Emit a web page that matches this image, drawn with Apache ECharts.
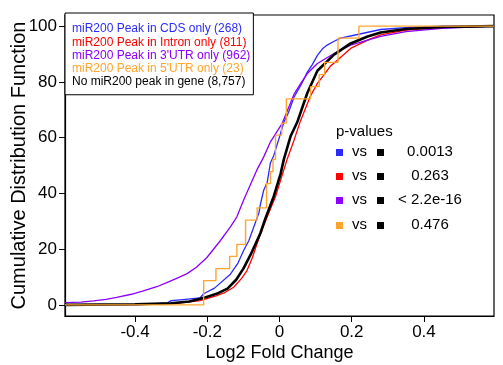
<!DOCTYPE html>
<html>
<head>
<meta charset="utf-8">
<script src="https://cdn.jsdelivr.net/npm/echarts@6/dist/echarts.min.js"></script>
<style>
html,body{margin:0;padding:0;background:#fff;}
#c{width:503px;height:365px;}
</style>
</head>
<body>
<div id="c"></div>
<script>
// ---- data (x = log2 fold change, y = cumulative %) ----
var seriesNames = [
  'miR200 Peak in CDS only (268)',
  'miR200 Peak in Intron only (811)',
  "miR200 Peak in 3'UTR only (962)",
  "miR200 Peak in 5'UTR only (23)",
  'No miR200 peak in gene (8,757)'
];
var cdsX = [-0.594,-0.4,-0.34,-0.31,-0.30,-0.26,-0.22,-0.21,-0.18,-0.136,-0.115,-0.099,-0.085,-0.071,-0.057,-0.053,-0.044,-0.034,-0.025,-0.016,-0.002,0.012,0.025,0.04,0.06,0.077,0.09,0.105,0.12,0.132,0.15,0.169,0.216,0.28,0.35,0.45,0.594];
var cdsY = [0,0,0.4,0.7,1.5,2,2.5,4,6,11,15,19.6,23,28,33,36,41,44,51,53.5,59.4,65.5,69,74.5,79,83.5,86,89.5,92,93.2,94.5,95.7,97,98.8,99.5,100,100];
var intronX = [-0.594,-0.35,-0.28,-0.22,-0.18,-0.15,-0.127,-0.105,-0.09,-0.075,-0.062,-0.048,-0.034,-0.011,0.021,0.04,0.058,0.086,0.105,0.123,0.14,0.16,0.197,0.244,0.28,0.35,0.45,0.594];
var intronY = [0,0.2,0.6,1.5,3,4.5,6.3,9.5,12.3,17,22,27,31.6,38.9,52.2,59,66,75,79.5,82.5,85.5,87.8,92,95,96.9,98.6,99.6,100];
var utr3X = [-0.594,-0.55,-0.515,-0.48,-0.451,-0.41,-0.377,-0.34,-0.312,-0.28,-0.256,-0.23,-0.201,-0.164,-0.136,-0.118,-0.099,-0.081,-0.062,-0.044,-0.025,0.007,0.04,0.058,0.077,0.105,0.151,0.197,0.244,0.28,0.35,0.45,0.594];
var utr3Y = [0.8,1.0,1.4,2.0,2.7,3.8,5,6.5,8,9.8,11.2,13.5,17,23,28,31.6,37.7,43,48.6,53,58.5,65,75.5,79.3,83,86.6,90.2,93.2,95,96.3,98,99.2,100];
var utr5X = [-0.594,-0.21,-0.176,-0.138,-0.118,-0.094,-0.062,-0.036,-0.025,-0.018,-0.011,0.006,0.019,0.086,0.11,0.125,0.162,0.22,0.594];
var utr5Y = [0,8.7,13.0,17.4,21.7,30.4,34.8,43.5,47.8,52.2,60.9,65.2,73.9,78.3,82.6,87.0,95.7,100,100];
var noneX = [-0.594,-0.4,-0.3,-0.25,-0.21,-0.17,-0.144,-0.12,-0.1,-0.08,-0.053,-0.039,-0.016,0.003,0.012,0.031,0.049,0.077,0.105,0.151,0.197,0.244,0.28,0.35,0.45,0.594];
var noneY = [0,0.2,0.6,1.2,2.5,4.2,5.8,9,13,18,25.7,31,38.9,47,52.2,60.6,65.5,76,84,89.8,93.8,96.3,97.7,99,99.7,100];

var xTicks = [-0.4,-0.2,0,0.2,0.4];
var yTicks = [0,20,40,60,80,100];
var pLabels = ['0.0013','0.263','< 2.2e-16','0.476'];

var colors = ['#2b2bff','#ff0000','#8b00ff','#ffa52c','#000000'];
var FONT = "'Liberation Sans', Arial, Helvetica, sans-serif";

function pairs(xs, ys){ return xs.map(function(x,i){ return [x, ys[i]]; }); }

var chart = echarts.init(document.getElementById('c'), null, {renderer:'canvas'});

var series = [
  {name: seriesNames[0], data: pairs(cdsX, cdsY), color: colors[0], lw: 1.3, step: false},
  {name: seriesNames[1], data: pairs(intronX, intronY), color: colors[1], lw: 1.3, step: false},
  {name: seriesNames[2], data: pairs(utr3X, utr3Y), color: colors[2], lw: 1.3, step: false},
  {name: seriesNames[4], data: pairs(noneX, noneY), color: colors[4], lw: 2.6, step: false},
  {name: seriesNames[3], data: pairs(utr5X, utr5Y), color: colors[3], lw: 1.4, step: 'end'}
].map(function(s){
  return {
    type: 'line', name: s.name, data: s.data, step: s.step,
    showSymbol: false, symbol: 'none', smooth: false,
    lineStyle: {color: s.color, width: s.lw}, itemStyle: {color: s.color},
    animation: false, silent: true
  };
});

var graphics = [];
graphics.push({type:'text', left: 336, top: 124, style:{text:'p-values', font: '15px ' + FONT, fill:'#000'}});
var rowY = [152, 176, 200, 225];
pLabels.forEach(function(t, i){
  var y = rowY[i];
  graphics.push({type:'rect', shape:{x:336, y:y-3, width:7, height:7}, style:{fill: colors[i]}});
  graphics.push({type:'text', x: 352, y: y, style:{text:'vs', font:'15px ' + FONT, fill:'#000', textVerticalAlign:'middle', verticalAlign:'middle'}});
  graphics.push({type:'rect', shape:{x:377, y:y-3, width:7, height:7}, style:{fill:'#000'}});
  graphics.push({type:'text', x: 430, y: y, style:{text:t, font:'15px ' + FONT, fill:'#000', align:'center', textAlign:'center', verticalAlign:'middle', textVerticalAlign:'middle'}});
});

chart.setOption({
  animation: false,
  backgroundColor: '#fff',
  textStyle: {fontFamily: FONT},
  grid: {left: 65, right: 9, top: 15, bottom: 49, show: true, borderColor: '#000', borderWidth: 1.2, backgroundColor: 'transparent', containLabel: false, outerBoundsMode: 'none'},
  legend: {
    data: [0,1,2,3,4].map(function(i){ return {name: seriesNames[i], textStyle: {color: colors[i]}}; }),
    orient: 'vertical', left: 65, top: 13, icon: 'none', itemWidth: 0, itemHeight: 14.3, itemGap: 0,
    padding: [9, 3, 7, 2], backgroundColor: '#fff', borderColor: '#000', borderWidth: 1,
    textStyle: {fontSize: 12, fontFamily: FONT}, selectedMode: false, z: 10
  },
  xAxis: {
    type: 'value', min: -0.594, max: 0.594,
    name: 'Log2 Fold Change', nameLocation: 'middle', nameGap: 28, nameMoveOverlap: false,
    nameTextStyle: {fontSize: 18, color: '#000', fontFamily: FONT},
    axisLine: {show: true, onZero: false, lineStyle: {color: '#000', width: 1.2}},
    axisTick: {show: true, length: 6, customValues: xTicks, lineStyle: {color: '#000'}},
    axisLabel: {customValues: xTicks, fontSize: 17, color: '#000', margin: 8, fontFamily: FONT,
      formatter: function(v){ return v === 0 ? '0' : String(v).replace('−','-'); }},
    splitLine: {show: false}
  },
  yAxis: {
    type: 'value', min: -4, max: 104,
    name: 'Cumulative Distribution Function', nameLocation: 'middle', nameGap: 36, nameRotate: 90, nameMoveOverlap: false,
    nameTextStyle: {fontSize: 20, color: '#000', fontFamily: FONT},
    axisLine: {show: true, onZero: false, lineStyle: {color: '#000', width: 1.2}},
    axisTick: {show: true, length: 6, customValues: yTicks, lineStyle: {color: '#000'}},
    axisLabel: {customValues: yTicks, fontSize: 17, color: '#000', margin: 8, fontFamily: FONT},
    splitLine: {show: false}
  },
  series: series,
  graphic: graphics
});
</script>
</body>
</html>
